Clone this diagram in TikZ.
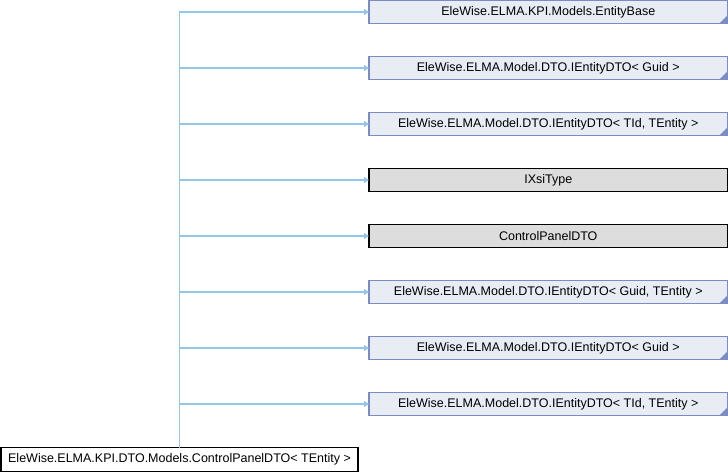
\documentclass[tikz,border=0pt]{standalone}
\usepackage{fontspec}
\setmainfont{Liberation Sans}
\usetikzlibrary{arrows.meta}
\definecolor{edgeblue}{HTML}{94C8E8}
\definecolor{boxfill}{HTML}{E8ECF5}
\definecolor{boxline}{HTML}{7A8CC6}
\definecolor{grayfill}{HTML}{DDDDDD}
\tikzset{
  base/.style={rectangle, line width=1.2pt, inner sep=0pt, outer sep=0pt,
    minimum width=358.5pt, minimum height=23pt, font=\fontsize{12.5pt}{14pt}\selectfont},
  bluebox/.style={base, draw=boxline, fill=boxfill},
  graybox/.style={base, draw=black, fill=grayfill},
  childbox/.style={base, draw=black, fill=white, minimum width=357pt, minimum height=24pt},
  inh/.style={draw=edgeblue, line width=1.1pt, -{Triangle[length=5pt,width=6pt]}},
}
\newcommand{\corner}[1]{\fill[boxline] ([xshift=-0.6pt,yshift=0.6pt]#1.south east) -- ++(-7,0) -- ++(7,-7) -- cycle;}
\begin{document}
\begin{tikzpicture}[x=1pt,y=-1pt]
\useasboundingbox (0,0) rectangle (728,472);
\node[bluebox] (p1) at (548.25,12) {EleWise.ELMA.KPI.Models.EntityBase};
\node[bluebox] (p2) at (548.25,68) {EleWise.ELMA.Model.DTO.IEntityDTO< Guid >};
\node[bluebox] (p3) at (548.25,124) {EleWise.ELMA.Model.DTO.IEntityDTO< TId, TEntity >};
\node[graybox] (p4) at (548.25,180) {IXsiType};
\node[graybox] (p5) at (548.25,236) {ControlPanelDTO};
\node[bluebox] (p6) at (548.25,292) {EleWise.ELMA.Model.DTO.IEntityDTO< Guid, TEntity >};
\node[bluebox] (p7) at (548.25,348) {EleWise.ELMA.Model.DTO.IEntityDTO< Guid >};
\node[bluebox] (p8) at (548.25,404) {EleWise.ELMA.Model.DTO.IEntityDTO< TId, TEntity >};
\node[childbox] (c) at (179.5,459.5) {EleWise.ELMA.KPI.DTO.Models.ControlPanelDTO< TEntity >};
\foreach \p in {p1,p2,p3,p6,p7,p8} {\corner{\p}}
\foreach \p in {p1,p2,p3,p4,p5,p6,p7,p8} {\draw[inh] (c.north) |- (\p.west);}
\end{tikzpicture}
\end{document}
